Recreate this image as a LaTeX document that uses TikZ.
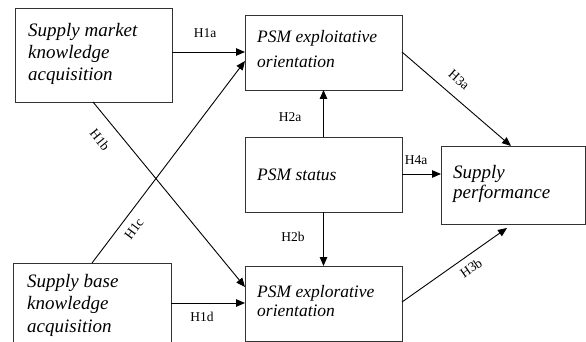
\documentclass[tikz,border=0pt]{standalone}
\usepackage{fontspec}
\setmainfont{Liberation Serif}
\usetikzlibrary{arrows.meta,calc}
\begin{document}
\begin{tikzpicture}[x=1pt,y=-1pt,
  box/.style={draw=black!80,line width=0.9pt,rectangle,inner sep=0pt,outer sep=0pt},
  bigtxt/.style={anchor=base west,inner sep=0pt,font=\fontsize{19}{22}\selectfont\itshape},
  psmtxt/.style={anchor=base west,inner sep=0pt,font=\fontsize{17.5}{21}\selectfont\itshape},
  hlab/.style={inner sep=0pt,font=\fontsize{13.5}{15}\selectfont},
  arr/.style={line width=0.9pt,-{Triangle[length=9pt,width=7.5pt]}},
  ln/.style={line width=0.9pt}]
\useasboundingbox (0,0) rectangle (586,342);
% boxes
\node[box,minimum width=157pt,minimum height=94pt] (A) at (93.5,55) {};
\node[box,minimum width=157pt,minimum height=75pt] (B) at (323.5,52.5) {};
\node[box,minimum width=157pt,minimum height=75pt] (C) at (323.5,174.5) {};
\node[box,minimum width=144pt,minimum height=78pt] (D) at (513,185) {};
\node[box,minimum width=158pt,minimum height=82pt] (E) at (92,304) {};
\node[box,minimum width=157pt,minimum height=75pt] (F) at (323.5,303.5) {};
% texts
\node[bigtxt] (a1) at (28,37) {Supply market};
\node[bigtxt] (a2) at (28,59) {knowledge};
\node[bigtxt] (a3) at (28,81) {acquisition};
\node[psmtxt] (b1) at (257,43) {PSM exploitative};
\node[psmtxt] (b2) at (257,68) {orientation};
\node[psmtxt] (c1) at (257,180) {PSM status};
\node[bigtxt] (d1) at (453,178) {Supply};
\node[bigtxt] (d2) at (453,198) {performance};
\node[bigtxt] (e1) at (27,287) {Supply base};
\node[bigtxt] (e2) at (27,309) {knowledge};
\node[bigtxt] (e3) at (27,332) {acquisition};
\node[psmtxt] (f1) at (257,297) {PSM explorative};
\node[psmtxt] (f2) at (257,316) {orientation};
% connector end points
\coordinate (pA1) at (A.east |- 0,52);
\coordinate (pB1) at (B.west |- 0,52);
\coordinate (pA2) at (93,102);
\coordinate (pF1) at (B.west |- 0,287);
\coordinate (pE1) at (92,263);
\coordinate (pB2) at (B.west |- 0,61);
\coordinate (pE2) at (E.east |- 0,303);
\coordinate (pF2) at (F.west |- 0,303);
\coordinate (pB3) at (B.east |- 0,52);
\coordinate (pD1) at (511,146);
\coordinate (pF3) at (F.east |- 0,302);
\coordinate (pD2) at (507,228);
\coordinate (pC1) at (C.east |- 0,174);
\coordinate (pD3) at (D.west |- 0,174);
% connectors
\draw[arr] (pA1) -- (pB1);
\draw[arr] (pA2) -- (pF1);
\draw[arr] (pE1) -- (pB2);
\draw[arr] (pE2) -- (pF2);
\draw[arr] (C.north) -- (B.south);
\draw[arr] (C.south) -- (F.north);
\draw[arr] (pB3) -- (pD1);
\draw[arr] (pF3) -- (pD2);
\draw[arr] (pC1) -- (pD3);
% labels
\node[hlab] (l1a) at (205,33) {H1a};
\node[hlab,rotate=-51] (l1b) at (100,140) {H1b};
\node[hlab,rotate=53.5] (l1c) at (134,229) {H1c};
\node[hlab] (l1d) at (202,317) {H1d};
\node[hlab] (l2a) at (290,117) {H2a};
\node[hlab] (l2b) at (293,237) {H2b};
\node[hlab,rotate=-41] (l3a) at (459,80) {H3a};
\node[hlab,rotate=34.5] (l3b) at (471,268) {H3b};
\node[hlab] (l4a) at (416,160) {H4a};
\end{tikzpicture}
\end{document}
